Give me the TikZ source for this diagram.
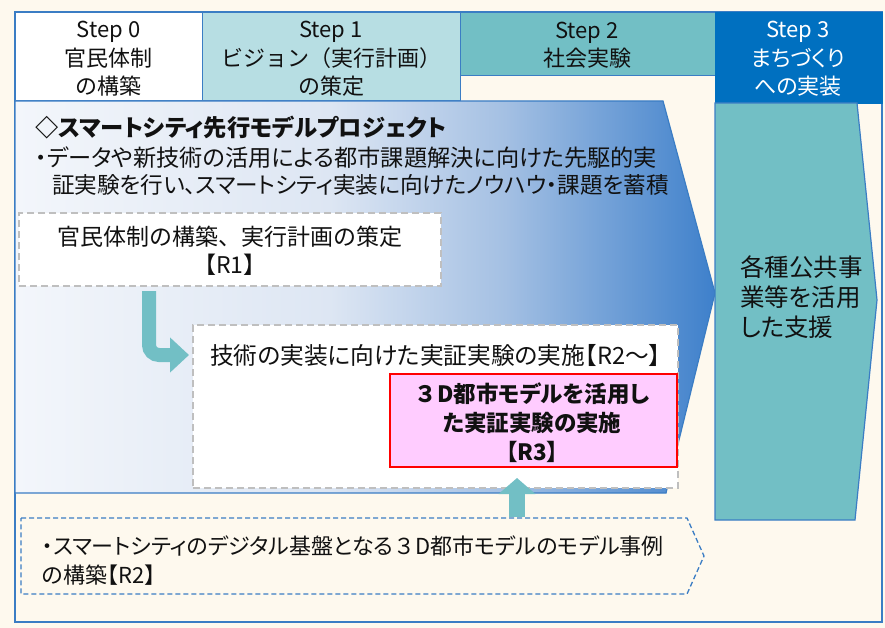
\documentclass[tikz,border=0pt]{standalone}
\usepackage{fontspec}
\setmainfont{Noto Sans CJK JP}[RawFeature=+palt]
\newfontfamily\jpfull{Noto Sans CJK JP}
\usetikzlibrary{arrows.meta}
\definecolor{cream}{HTML}{FEF9EE}
\definecolor{frameblue}{HTML}{3B7DC4}
\definecolor{lteal}{HTML}{B7DEE3}
\definecolor{tealB}{HTML}{72BFC5}
\definecolor{navyB}{HTML}{0070C0}
\definecolor{dashgray}{HTML}{BFBFBF}
\definecolor{pinkbox}{HTML}{FFCCFF}
\definecolor{redline}{HTML}{FF0000}
\definecolor{txtc}{HTML}{111111}
\definecolor{gA}{HTML}{F3F6FB}
\definecolor{gB}{HTML}{DDE6F3}
\definecolor{gC}{HTML}{A4C0E3}
\definecolor{gD}{HTML}{3E80CB}
\pgfdeclarehorizontalshading{bluegrad}{100bp}{color(0bp)=(gA); color(25bp)=(gA); color(47.5bp)=(gB); color(60bp)=(gC); color(75bp)=(gD); color(100bp)=(gD)}
\begin{document}
\begin{tikzpicture}[x=1pt,y=-1pt,
  txt/.style={inner sep=0pt, text=txtc, font=\fontsize{23}{28}\selectfont},
  hdr/.style={txt, align=center, font=\fontsize{22}{28.5}\selectfont},
  cell/.style={draw=frameblue, line width=1pt, anchor=north west, inner sep=0pt},
  graybox/.style={draw=dashgray, fill=white, line width=2.2pt, dash pattern=on 7pt off 4pt, anchor=north west, inner sep=0pt},
  tarrow/.style={draw=tealB, line width=14pt, -{Triangle[width=34pt,length=19pt]}}
]
\useasboundingbox (0,0) rectangle (885,628);
\fill[cream] (0,0) rectangle (885,628);
% outer frame
\draw[frameblue, line width=1.8pt] (15,12) rectangle (882,622);
% header cells
\node[cell, fill=white, minimum width=187pt, minimum height=88pt] (c0) at (15,12) {};
\node[cell, fill=lteal, minimum width=258pt, minimum height=88pt] (c1) at (202,12) {};
\node[cell, fill=tealB, minimum width=255pt, minimum height=63pt] (c2) at (460,12) {};
\node[cell, fill=navyB, draw=navyB, minimum width=167pt, minimum height=91pt] (c3) at (715,12) {};
% big gradient arrow
\shadedraw[shading=bluegrad, draw=frameblue, line width=1.2pt] (15,101) -- (663,101) -- (715,293) -- (666,493) -- (15,493) -- cycle;
% step 3 arrow
\filldraw[fill=tealB, draw=frameblue, line width=1.2pt] (715,103) -- (857,103) -- (877,300) -- (855,520) -- (715,520) -- cycle;
% boxes
\node[graybox, minimum width=422pt, minimum height=73pt] (r1) at (18,212) {};
\node[graybox, minimum width=485pt, minimum height=163pt] (r2) at (192,324) {};
\node[draw=redline, fill=pinkbox, line width=1.6pt, anchor=north west, inner sep=0pt, minimum width=287pt, minimum height=93pt] (r3) at (389,373) {};
\draw[frameblue, line width=1.3pt, dash pattern=on 5pt off 3pt] (21,518) -- (687,518) -- (704,556) -- (687,594) -- (21,594) -- cycle;
\coordinate (bb) at (21,518);
% arrows
\coordinate (la0) at (149,291);
\coordinate (la1) at (189,355);
\draw[tarrow, rounded corners=10pt] (la0) |- (la1);
\coordinate (ua0) at (517,517);
\coordinate (ua1) at (517,478);
\draw[tarrow, line width=16pt, -{Triangle[width=36pt,length=16pt]}] (ua0) -- (ua1);
% header texts
\node[hdr] (s0) at (108.5,59) {Step 0\\官民体制\\の構築};
\node[hdr, font=\fontsize{22}{28.5}\selectfont\jpfull] (s1) at (331,59) {Step 1\\ビジョン（実行計画）\\の策定};
\node[hdr] (s2) at (587,45) {Step 2\\社会実験};
\node[hdr, text=white] (s3) at (798,59) {Step 3\\まちづくり\\への実装};
% body texts
\node[txt, anchor=west, font=\fontsize{23.3}{28}\selectfont\bfseries] (t0) at (35,128) {◇スマートシティ先行モデルプロジェクト};
\node[txt, anchor=north west, align=left, font=\fontsize{23.2}{27}\selectfont] (t1) at (35,147) {・データや新技術の活用による都市課題解決に向けた先駆的実\\\hspace*{17pt}{\fontsize{22.6}{27}\selectfont 証実験を行い、スマートシティ実装に向けたノウハウ・課題を蓄積}};
\node[txt, align=center, font=\fontsize{23}{28}\selectfont\jpfull] (t2) at (230,251) {官民体制の構築、実行計画の策定\\【R1】};
\node[txt, anchor=west, font=\fontsize{23.7}{28}\selectfont] (t3) at (210,355) {技術の実装に向けた実証実験の実施【R2～】};
\node[txt, align=center, font=\fontsize{22.5}{29}\selectfont\bfseries] (t4) at (532,423) {{\jpfull\bfseries ３}D都市モデルを活用し\\た実証実験の実施\\【R3】};
\node[txt, anchor=west, align=left, font=\fontsize{24.5}{30}\selectfont] (t5) at (740,297) {各種公共事\\業等を活用\\した支援};
\node[txt, anchor=west, align=left, font=\fontsize{22}{29}\selectfont] (t6) at (42,561) {・スマートシティのデジタル基盤となる{\jpfull ３}D都市モデルのモデル事例\\の構築【R2】};
\end{tikzpicture}
\end{document}
